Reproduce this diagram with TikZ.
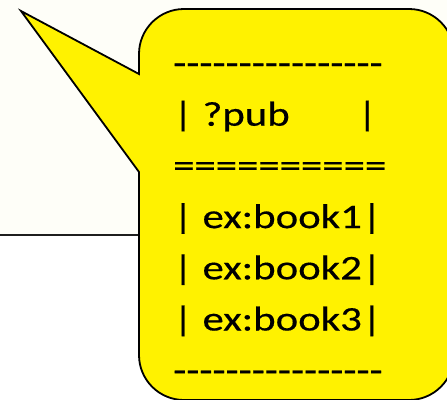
\documentclass[tikz,border=0pt]{standalone}
\usepackage{fontspec}
\setmainfont{Carlito}[FakeStretch=1.24, FakeBold=0.4]
\usepackage{tikz}

\definecolor{slidecream}{RGB}{254,254,248}
\definecolor{ruledark}{RGB}{30,30,30}

\begin{document}
\begin{tikzpicture}[x=1pt, y=-1pt,
        callout/.style={draw=black, line width=1.8pt, fill=yellow, line join=miter}, % speech bubble
        rowtext/.style={anchor=base west, inner sep=0pt, font=\fontsize{34.5}{40}\selectfont}
    ]
    \useasboundingbox (0,0) rectangle (447,399);
    \clip (0,0) rectangle (447,399);
    \fill[slidecream] (0,0) rectangle (447,235);

    \coordinate (tip) at (21,11);
    \coordinate (jointop) at (139,74);
    \coordinate (joinbot) at (139,172);
    \coordinate (ruleleft) at (0,235);

    \draw[ruledark, line width=2.2pt] (ruleleft) -- (ruleleft -| jointop);

    \draw[callout] (tip) -- (jointop) -- (139,54)
        .. controls (139,29.15) and (159.15,9) .. (184,9) -- (409,9)
        .. controls (433.85,9) and (454,29.15) .. (454,54) -- (454,355)
        .. controls (454,379.85) and (433.85,400) .. (409,400) -- (184,400)
        .. controls (159.15,400) and (139,379.85) .. (139,355) -- (joinbot) -- cycle;

    % result table, one line per row
    \foreach \txt [count=\i from 0] in {%
            -{}-{}-{}-{}-{}-{}-{}-{}-{}-{}-{}-{}-{}-{}-{}-,
            | ?pub\ \ \ \ \ \ \ |,
            ==========,
            | ex:book1|,
            | ex:book2|,
            | ex:book3|,
            -{}-{}-{}-{}-{}-{}-{}-{}-{}-{}-{}-{}-{}-{}-{}-}
        \node[rowtext] (row\i) at (173, 74.5+51.2*\i) {\txt};
\end{tikzpicture}
\end{document}
